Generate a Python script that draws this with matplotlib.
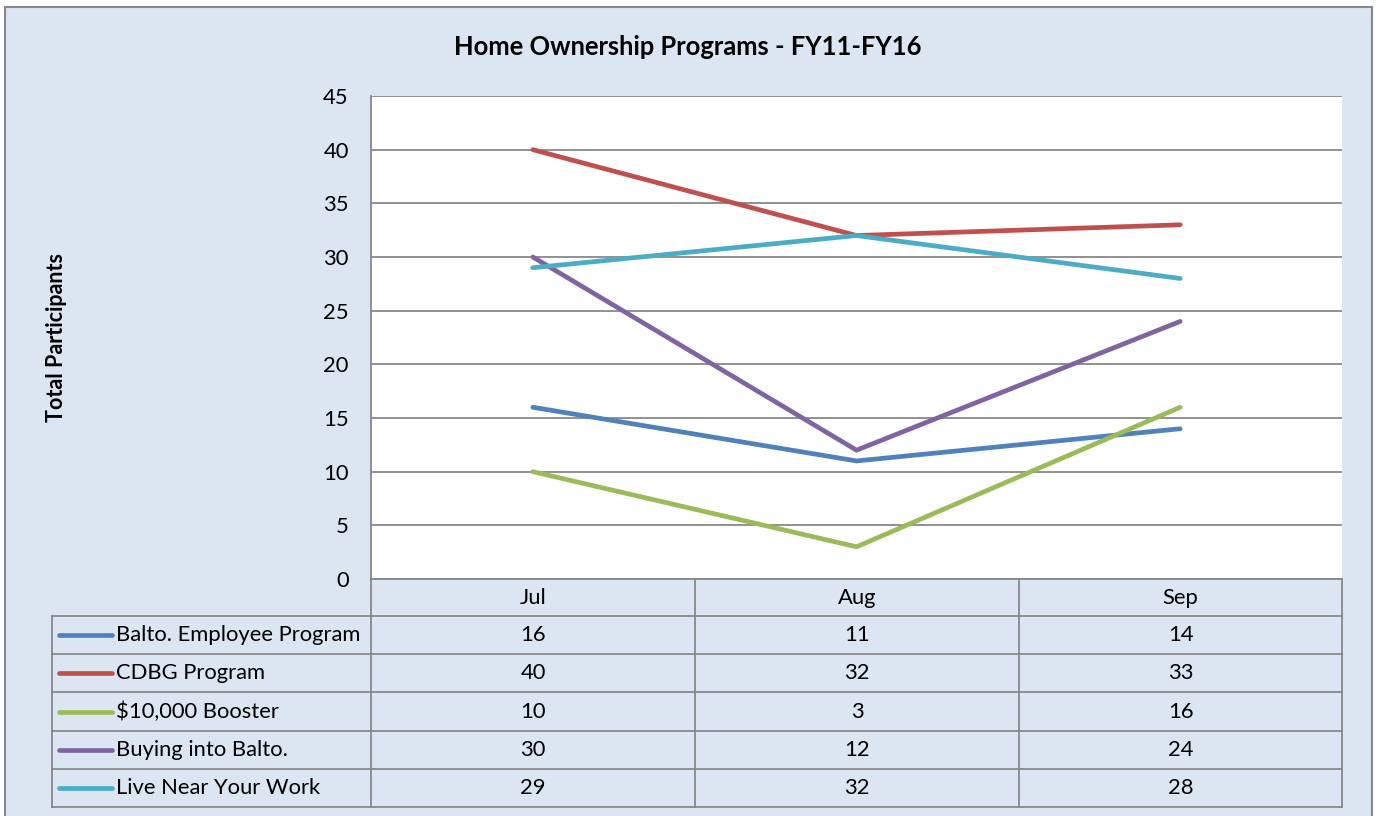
import matplotlib.pyplot as plt
from matplotlib.patches import Rectangle
from matplotlib.lines import Line2D

# datos
meses = ["Jul", "Aug", "Sep"]
programas = ["Balto. Employee Program", "CDBG Program", "$10,000 Booster",
             "Buying into Balto.", "Live Near Your Work"]
empleado = [16, 11, 14]
cdbg = [40, 32, 33]
booster = [10, 3, 16]
buying = [30, 12, 24]
live_near = [29, 32, 28]
series = [empleado, cdbg, booster, buying, live_near]
colores = ["#4F81BD", "#C0504D", "#9BBB59", "#8064A2", "#4BACC6"]

plt.rcParams['font.family'] = ['Lato', 'DejaVu Sans']
W, H = 1376, 816
fondo = "#DCE6F2"
gris = "#888888"
fs = 15.8

fig = plt.figure(figsize=(W / 100, H / 100), dpi=100, facecolor="white")

def fx(px):
    return px / W

def fy(py):
    return 1 - py / H

# marco exterior
fig.patches.append(Rectangle((fx(5), fy(818)), fx(1372) - fx(5), fy(7) - fy(818),
                             transform=fig.transFigure, facecolor=fondo,
                             edgecolor=gris, linewidth=1.5, zorder=-5))

x0, x1, y_top, y_bot = 371, 1342, 96, 579
ax = fig.add_axes([fx(x0), fy(y_bot), fx(x1) - fx(x0), fy(y_top) - fy(y_bot)])
ax.set_zorder(1)
ax.set_facecolor("white")
for i, vals in enumerate(series):
    ax.plot(range(len(meses)), vals, color=colores[i], linewidth=3.4,
            solid_capstyle="round", zorder=3)
ax.set_xlim(-0.5, 2.5)
ax.set_ylim(0, 45)
ax.set_yticks(range(0, 46, 5))
ax.yaxis.grid(True, color=gris, linewidth=1.3)
ax.set_axisbelow(True)
ax.tick_params(axis="y", length=0, labelsize=fs, pad=16)
ax.set_xticks([])
for s in ["top", "right"]:
    ax.spines[s].set_visible(False)
for s in ["left", "bottom"]:
    ax.spines[s].set_color(gris)
    ax.spines[s].set_linewidth(1.3)

fig.text(fx(688), fy(47), "Home Ownership Programs - FY11-FY16", ha="center",
         va="center", fontsize=18.4, fontweight="bold")
fig.text(fx(57), fy(337), "Total Participants", ha="center", va="center",
         rotation=90, fontsize=15.5, fontweight="bold")

# tabla de datos
cols = [371, 695, 1019, 1342]
filas = [579, 616, 654, 692, 731, 769, 807]
leg_x = 52

def linea(xs, ys):
    fig.lines.append(Line2D([fx(v) for v in xs], [fy(v) for v in ys],
                            transform=fig.transFigure, color=gris, linewidth=1.3,
                            zorder=2))

for c in cols:
    linea([c, c], [filas[0], filas[-1]])
linea([leg_x, leg_x], [filas[1], filas[-1]])
for r in filas[1:]:
    linea([leg_x, cols[-1]], [r, r])

for j, m in enumerate(meses):
    fig.text(fx((cols[j] + cols[j + 1]) / 2), fy((filas[0] + filas[1]) / 2), m,
             ha="center", va="center", fontsize=fs)

for i, nombre in enumerate(programas):
    yc = (filas[i + 1] + filas[i + 2]) / 2
    fig.lines.append(Line2D([fx(59), fx(112)], [fy(yc), fy(yc)],
                            transform=fig.transFigure, color=colores[i],
                            linewidth=3.4, solid_capstyle="round"))
    fig.text(fx(116), fy(yc), nombre, ha="left", va="center", fontsize=fs)
    for j in range(len(meses)):
        fig.text(fx((cols[j] + cols[j + 1]) / 2), fy(yc), str(series[i][j]),
                 ha="center", va="center", fontsize=fs)

fig.savefig("out.png", dpi=100, facecolor="white")
